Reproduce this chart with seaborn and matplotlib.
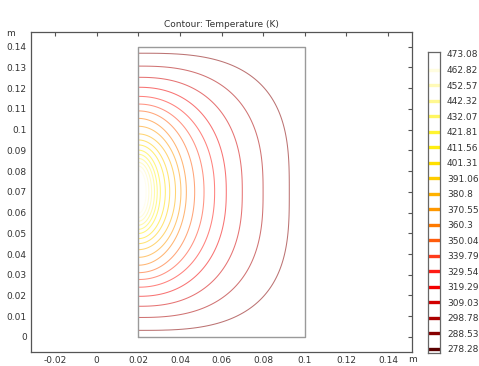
import numpy as np
import matplotlib
matplotlib.use("Agg")
import matplotlib.pyplot as plt
import seaborn as sns

# ---------------- data ----------------
# temperature levels of the colour legend (K), low -> high
levels = [278.28, 288.53, 298.78, 309.03, 319.29, 329.54, 339.79, 350.04, 360.3,
          370.55, 380.8, 391.06, 401.31, 411.56, 421.81, 432.07, 442.32, 452.57,
          462.82, 473.08]
level_labels = ["278.28", "288.53", "298.78", "309.03", "319.29", "329.54", "339.79",
                "350.04", "360.3", "370.55", "380.8", "391.06", "401.31", "411.56",
                "421.81", "432.07", "442.32", "452.57", "462.82", "473.08"]
# legend colours, one per level (low -> high)
level_colors = ["#5a0000", "#860000", "#ac0000", "#d20000", "#f40000", "#ff1c14",
                "#ff3c1c", "#ff5c0c", "#ff7a00", "#ff9800", "#ffb200", "#ffcc00",
                "#ffe000", "#ffee10", "#fff430", "#fff660", "#fff890", "#fffab8",
                "#fffde0", "#ffffff"]

# contour lines (levels 288.53 ... 462.82), outer -> inner, measured extents
# from the hot point at the left edge (x = 0.02 m, y = 0.07 m)
contour_levels = levels[1:19]
half_width = [0.0726, 0.0600, 0.0500, 0.0423, 0.0367, 0.0316, 0.0271, 0.0231, 0.0205,
              0.0179, 0.0151, 0.0130, 0.0106, 0.0091, 0.0078, 0.0064, 0.0051, 0.0038]
half_height = [0.0668, 0.0606, 0.0552, 0.0504, 0.0460, 0.0423, 0.0390, 0.0354, 0.0316,
               0.0279, 0.0250, 0.0226, 0.0201, 0.0181, 0.0161, 0.0142, 0.0124, 0.0105]
shape_exp = [3.0, 2.6, 2.4, 2.25, 2.15, 2.1, 2.05, 2.0, 2.0,
             2.0, 2.0, 2.0, 2.0, 2.0, 2.0, 2.0, 2.0, 2.0]

# geometry
domain_x = [0.02, 0.1, 0.1, 0.02, 0.02]
domain_y = [0.0, 0.0, 0.14, 0.14, 0.0]
hot_x, hot_y = 0.02, 0.07
x_ticks = [-0.02, 0, 0.02, 0.04, 0.06, 0.08, 0.1, 0.12, 0.14]
x_tick_labels = ["-0.02", "0", "0.02", "0.04", "0.06", "0.08", "0.1", "0.12", "0.14"]
y_ticks = [0, 0.01, 0.02, 0.03, 0.04, 0.05, 0.06, 0.07, 0.08, 0.09, 0.1, 0.11, 0.12, 0.13, 0.14]
y_tick_labels = ["0", "0.01", "0.02", "0.03", "0.04", "0.05", "0.06", "0.07", "0.08",
                 "0.09", "0.1", "0.11", "0.12", "0.13", "0.14"]
title = "Contour: Temperature (K)"

# ---------------- temperature field built from the measured contours ----------------
xg = np.linspace(0.02, 0.1, 500)
yg = np.linspace(0.0, 0.14, 800)
X, Y = np.meshgrid(xg, yg)
U = np.maximum(X - hot_x, 0.0)
V = np.abs(Y - hot_y)

# add outer (domain boundary) and inner (hot point) bounding shapes
a_all = [0.09] + half_width + [0.0012]
b_all = [0.078] + half_height + [0.0035]
p_all = [4.0] + shape_exp + [2.0]
t_all = [levels[0]] + contour_levels + [levels[-1]]

S = [((U / a) ** p + (V / b) ** p) ** (1.0 / p) for a, b, p in zip(a_all, b_all, p_all)]
T = np.full(X.shape, t_all[0])
for j in range(len(S) - 1):
    s0, s1 = S[j], S[j + 1]
    m = (s0 <= 1.0) & (s1 > 1.0)
    f = np.clip((1.0 - s0[m]) / (s1[m] - s0[m] + 1e-12), 0, 1)
    T[m] = t_all[j] + f * (t_all[j + 1] - t_all[j])
T[S[-1] <= 1.0] = t_all[-1]

# ---------------- plotting ----------------
sns.set_style("white")
plt.rcParams["font.family"] = ["DejaVu Sans"]
cmap = sns.blend_palette(level_colors, as_cmap=True)
norm = matplotlib.colors.Normalize(vmin=levels[0], vmax=levels[-1])

fig = plt.figure(figsize=(4.79, 3.66), dpi=100)
ax = fig.add_axes([31 / 479, 1 - 351.7 / 366, 381 / 479, 319.4 / 366])

ax.contour(X, Y, T, levels=contour_levels,
           colors=[cmap(norm(v)) for v in contour_levels],
           linewidths=0.75, alpha=0.55)
ax.plot(domain_x, domain_y, color="#9a9a9a", lw=1.0)

ax.set_xlim(-0.0316, 0.1516)
ax.set_ylim(-0.0071, 0.1469)
ax.set_xticks(x_ticks)
ax.set_xticklabels(x_tick_labels)
ax.set_yticks(y_ticks)
ax.set_yticklabels(y_tick_labels)
ax.tick_params(direction="in", length=3, width=0.8, color="#555555",
               labelsize=6.5, labelcolor="#333333", top=True, right=True,
               labeltop=False, labelright=False, pad=3)
for sp in ax.spines.values():
    sp.set_color("#555555")
    sp.set_linewidth(0.9)
ax.set_title(title, fontsize=6.5, color="#333333", pad=4)
fig.text(6 / 479, 1 - 33 / 366, "m", fontsize=6.5, color="#333333", va="center")
fig.text(408 / 479, 1 - 360 / 366, "m", fontsize=6.5, color="#333333", va="center")

# colour legend
cax = fig.add_axes([428 / 479, 1 - 353 / 366, 12 / 479, 301 / 366])
cax.set_xlim(0, 1)
cax.set_ylim(275.6, 474.4)
for v, c in zip(levels, level_colors):
    cax.hlines(v, 0, 1, colors=[c], lw=2.4)
cax.set_xticks([])
cax.set_yticks(levels)
cax.set_yticklabels(level_labels)
cax.yaxis.tick_right()
cax.tick_params(axis="y", length=0, labelsize=6.5, labelcolor="#333333", pad=5)
for sp in cax.spines.values():
    sp.set_color("#666666")
    sp.set_linewidth(0.9)

fig.savefig("out.png", dpi=100)
